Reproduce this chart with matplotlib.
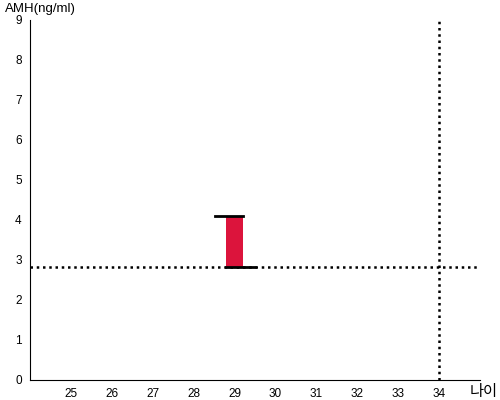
import matplotlib
matplotlib.use("Agg")
import matplotlib.pyplot as plt

plt.rcParams['font.family'] = ['Liberation Sans', 'Noto Sans CJK KR']

# data
ages = [29]
amh_low = [2.83]
amh_high = [4.1]
ref_amh = 2.83
ref_age = 34
x_ticks = [25, 26, 27, 28, 29, 30, 31, 32, 33, 34]
y_ticks = list(range(0, 10))

fig = plt.figure(figsize=(5, 4), dpi=100)
ax = fig.add_axes([0.06, 0.05, 0.90, 0.90])

for age, lo, hi in zip(ages, amh_low, amh_high):
    ax.bar(age, hi - lo, bottom=lo, width=0.4, color='#dc143c', zorder=2)
    ax.plot([age - 0.48, age + 0.2], [hi, hi], color='black', lw=2, zorder=3)
    ax.plot([age - 0.2, age + 0.5], [lo, lo], color='black', lw=2, zorder=3)

ax.axhline(ref_amh, color='black', lw=1.8, ls=(0, (1, 1.5)), zorder=1)
ax.axvline(ref_age, color='black', lw=1.8, ls=(0, (1, 1.5)), zorder=1)

ax.set_xlim(24, 35)
ax.set_ylim(0, 9)
ax.set_xticks(x_ticks)
ax.set_yticks(y_ticks)
ax.tick_params(length=0, labelsize=8.5, pad=6)
for s in ['top', 'right']:
    ax.spines[s].set_visible(False)

fig.text(0.01, 0.993, 'AMH(ng/ml)', fontsize=9.5, va='top', ha='left')
fig.text(0.94, 0.02, '나이', fontsize=11, va='center', ha='left')

fig.savefig('out.png', dpi=100)
